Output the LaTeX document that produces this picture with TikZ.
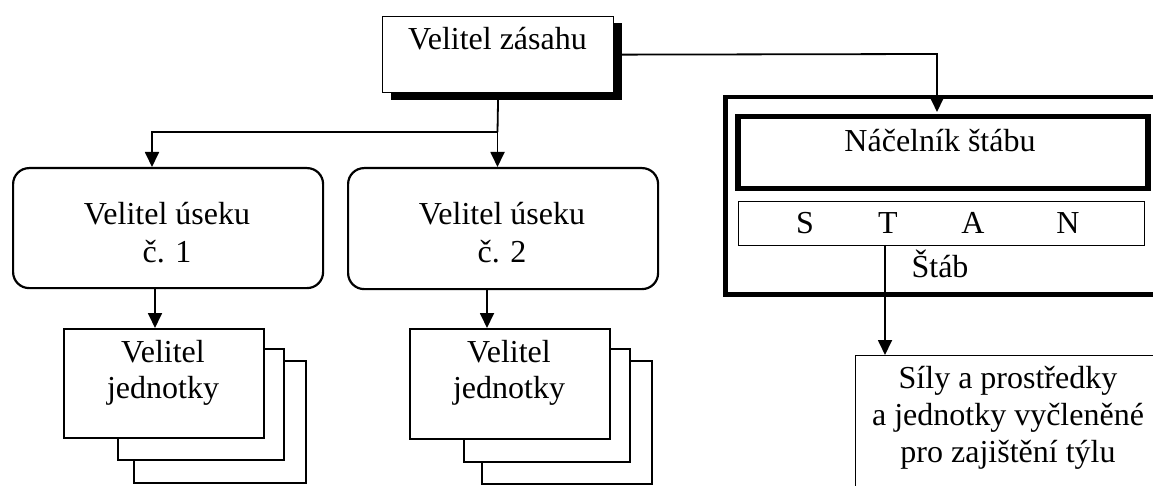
\documentclass[tikz,border=0pt]{standalone}
\usepackage{fontspec}
\setmainfont{Liberation Serif}
\usetikzlibrary{arrows.meta}
\tikzset{
  txt/.style={inner sep=0pt, anchor=base, font=\fontsize{32}{37}\selectfont},
  boxthin/.style={draw, line width=1.3pt, fill=white, inner sep=0pt, anchor=north west},
  boxstack/.style={draw, line width=1.8pt, fill=white, inner sep=0pt, anchor=north west},
  boxround/.style={draw, line width=2.2pt, rounded corners=16pt, fill=white, inner sep=0pt, anchor=north west},
  conn/.style={line width=1.8pt},
  arr/.style={line width=1.8pt, -{Triangle[length=15pt,width=14pt]}},
}
\begin{document}
\begin{tikzpicture}[x=1pt,y=-1pt]
\useasboundingbox (0,0) rectangle (1153,486);
\clip (0,0) rectangle (1153,486);

% Velitel zasahu with shadow
\fill[black] (391,23) rectangle (622,100);
\node[boxthin, minimum width=231pt, minimum height=76pt] (vz) at (382,16) {};
\node[txt] (vzt) at (497.5,50) {Velitel zásahu};

% sector commanders
\node[boxround, minimum width=310pt, minimum height=120pt] (u1) at (12,167) {};
\node[txt] (u1a) at (167,225) {Velitel úseku};
\node[txt] (u1b) at (167,262) {č. 1};
\node[boxround, minimum width=310pt, minimum height=121pt] (u2) at (347,167) {};
\node[txt] (u2a) at (502,225) {Velitel úseku};
\node[txt] (u2b) at (502,262) {č. 2};

% unit stacks 1
\node[boxstack, minimum width=172pt, minimum height=122pt] (s1c) at (133,360) {};
\node[boxstack, minimum width=166pt, minimum height=111pt] (s1b) at (117,348) {};
\node[boxstack, minimum width=200pt, minimum height=109pt] (s1a) at (63,328) {};
\node[txt] (s1t1) at (163,362) {Velitel};
\node[txt] (s1t2) at (163,398) {jednotky};
% unit stacks 2
\node[boxstack, minimum width=170pt, minimum height=123pt] (s2c) at (481,360) {};
\node[boxstack, minimum width=166pt, minimum height=113pt] (s2b) at (463,348) {};
\node[boxstack, minimum width=200pt, minimum height=110pt] (s2a) at (409,328) {};
\node[txt] (s2t1) at (509,362) {Velitel};
\node[txt] (s2t2) at (509,398) {jednotky};

% staff
\node[draw, line width=4.5pt, inner sep=0pt, anchor=north west, minimum width=460pt, minimum height=197pt] (stab) at (723,95) {};
\node[draw, line width=5.5pt, inner sep=0pt, anchor=north west, minimum width=410pt, minimum height=72pt] (nac) at (735,114) {};
\node[txt] (nact) at (940,152) {Náčelník štábu};
\node[boxthin, minimum width=406pt, minimum height=44pt] (stan) at (738,201) {};
\node[txt] (sS) at (805,234) {S};
\node[txt] (sT) at (888,234) {T};
\node[txt] (sA) at (973,234) {A};
\node[txt] (sN) at (1068,234) {N};
\node[txt] (stabt) at (940,277) {Štáb};

% rear security
\node[draw, line width=1.1pt, fill=white, inner sep=0pt, anchor=north west, minimum width=330pt, minimum height=160pt] (tyl) at (855,355) {};
\node[txt] (ty1) at (1008,388) {Síly a prostředky};
\node[txt] (ty2) at (1008,425) {a jednotky vyčleněné};
\node[txt] (ty3) at (1008,462) {pro zajištění týlu};

% connectors
\coordinate (jn) at (497.5,132);
\coordinate (jl) at (152,132);
\coordinate (c1) at (155,287);
\coordinate (c2) at (487,288);
\coordinate (cr) at (937,54);
\coordinate (cs) at (885,245);
\draw[conn] (vz.south) -- (jn);
\draw[arr] (jn) -- (jl) -- (jl |- u1.north);
\draw[arr] (jn) -- (jn |- u2.north);
\draw[arr] (c1) -- (c1 |- s1a.north);
\draw[arr] (c2) -- (c2 |- s2a.north);
\draw[arr] (vz.east) -- (cr) -- ([yshift=2pt]cr |- nac.north);
\draw[arr] (cs) -- (cs |- tyl.north);
\end{tikzpicture}
\end{document}
